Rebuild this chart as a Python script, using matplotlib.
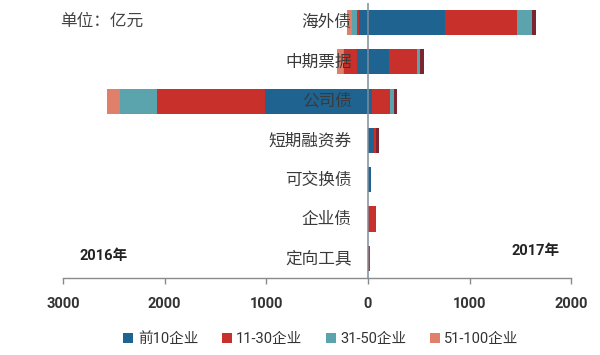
import numpy as np
import matplotlib.pyplot as plt
from matplotlib.patches import Patch

plt.rcParams['font.family'] = ['Roboto', 'Noto Sans CJK SC', 'DejaVu Sans']

# categories, top to bottom
categories = ['海外债', '中期票据', '公司债', '短期融资券', '可交换债', '企业债', '定向工具']
groups = ['前10企业', '11-30企业', '31-50企业', '51-100企业']

# 2016 (drawn to the left), 亿元
y2016_top10 = [90, 110, 1010, 0, 0, 0, 0]
y2016_11_30 = [20, 130, 1070, 0, 0, 0, 0]
y2016_31_50 = [50, 10, 360, 0, 0, 0, 0]
y2016_51_100 = [50, 50, 130, 0, 0, 0, 0]

# 2017 (drawn to the right), 亿元
y2017_top10 = [760, 205, 40, 60, 30, 0, 0]
y2017_11_30 = [710, 275, 175, 15, 0, 80, 20]
y2017_31_50 = [145, 35, 40, 5, 0, 0, 0]
y2017_51_100 = [40, 40, 30, 25, 0, 0, 0]

tick_values = [-3000, -2000, -1000, 0, 1000, 2000]

colors_left = ['#1f6391', '#c8302c', '#5ba4ad', '#e0806a']
colors_right = ['#1f6391', '#c8302c', '#5ba4ad', '#7a2530']

fig = plt.figure(figsize=(6, 3.55), dpi=100)
ax = fig.add_axes([0.105, 0.217, 0.847, 0.775])

y = np.arange(len(categories))
h = 0.64

left_series = [y2016_top10, y2016_11_30, y2016_31_50, y2016_51_100]
right_series = [y2017_top10, y2017_11_30, y2017_31_50, y2017_51_100]

base = np.zeros(len(categories))
for vals, c in zip(left_series, colors_left):
    v = -np.array(vals, dtype=float)
    ax.barh(y, v, left=base, height=h, color=c, edgecolor='none', zorder=2)
    base += v

base = np.zeros(len(categories))
for vals, c in zip(right_series, colors_right):
    v = np.array(vals, dtype=float)
    ax.barh(y, v, left=base, height=h, color=c, edgecolor='none', zorder=2)
    base += v

# category labels just left of the zero line
for i, name in enumerate(categories):
    ax.text(-160, i, name, ha='right', va='center', fontsize=12,
            color='#3a3a3a', zorder=5)

ax.axvline(0, color='#7d8c9c', lw=1.1, zorder=3)

ax.set_xlim(-3000, 2000)
ax.set_ylim(6.5, -0.5)
ax.set_yticks([])
ax.set_xticks(tick_values)
ax.set_xticklabels([str(abs(t)) for t in tick_values])
ax.tick_params(axis='x', length=4, width=1, color='#8a8a8a', pad=10,
               labelsize=10.5, labelcolor='#333333')
for lab in ax.get_xticklabels():
    lab.set_fontweight('bold')

for s in ['top', 'left', 'right']:
    ax.spines[s].set_visible(False)
ax.spines['bottom'].set_color('#8a8a8a')
ax.spines['bottom'].set_linewidth(1)

fig.text(0.1, 0.941, '单位：亿元', ha='left', va='center', fontsize=12, color='#444444')
fig.text(0.173, 0.279, '2016年', ha='center', va='center', fontsize=10.5,
         fontweight='bold', color='#222222')
fig.text(0.893, 0.293, '2017年', ha='center', va='center', fontsize=10.5,
         fontweight='bold', color='#222222')

handles = [Patch(facecolor=c, edgecolor='none') for c in colors_left]
fig.legend(handles, groups, loc='center', bbox_to_anchor=(0.535, 0.045), ncol=4,
           frameon=False, fontsize=10.5, handlelength=0.7, handleheight=0.7,
           handletextpad=0.3, columnspacing=1.6, labelcolor='#333333')

fig.savefig('out.png', dpi=100)
